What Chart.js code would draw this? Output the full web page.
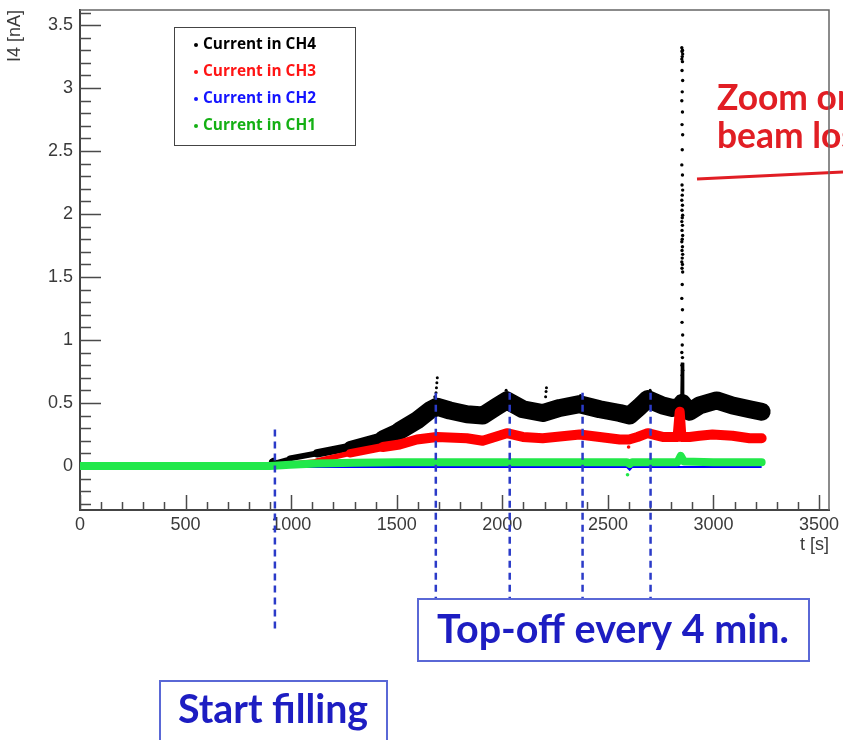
<!DOCTYPE html>
<html>
<head>
<meta charset="utf-8">
<title>I4 current vs time</title>
<script src="https://cdn.jsdelivr.net/npm/chart.js@4.4.1/dist/chart.umd.min.js"></script>
<style>
  html, body { margin: 0; padding: 0; background: #fff; }
  canvas { display: block; }
</style>
</head>
<body>
<canvas id="chartOne" width="843" height="740"></canvas>
<script>
// axis ticks
var xTicks = [0, 500, 1000, 1500, 2000, 2500, 3000, 3500];
var yTicks = [0, 0.5, 1, 1.5, 2, 2.5, 3, 3.5];

// CH4 (black) band centre, t [s] / I [nA]
var timesCH4 = [0, 450, 890, 905, 915, 930, 994, 1122, 1278, 1434, 1514, 1595, 1656, 1690, 1751, 1832, 1907, 1973, 2021, 2097,
                2191, 2272, 2366, 2461, 2556, 2603, 2650, 2688, 2759, 2806, 2840, 2852, 2866, 2887, 2934, 3015, 3090, 3171, 3228];
var currentCH4 = [-0.005, -0.005, 0.0, 0.04, 0.05, 0.03, 0.06, 0.10, 0.15, 0.22, 0.28, 0.36, 0.44, 0.47, 0.44, 0.41, 0.40, 0.47, 0.52, 0.45,
                  0.42, 0.46, 0.49, 0.45, 0.42, 0.40, 0.47, 0.53, 0.48, 0.46, 0.47, 0.50, 0.47, 0.43, 0.48, 0.52, 0.48, 0.45, 0.43];

// CH4 single readings above the band at the top-off peaks
var peakTimesCH4 = [1680, 1686, 1688, 1690, 1692, 2018, 2024, 2205, 2207, 2209, 2360, 2370, 2700];
var peakCurrentCH4 = [0.55, 0.58, 0.62, 0.66, 0.70, 0.60, 0.58, 0.55, 0.59, 0.62, 0.54, 0.56, 0.60];

// CH4 readings during the beam-loss burst
var burstTimesCH4 = [2850, 2853, 2851, 2854, 2852, 2850, 2853, 2851, 2854, 2852,
                     2850, 2853, 2851, 2854, 2852, 2850, 2853, 2851, 2854, 2852,
                     2850, 2853, 2851, 2854, 2852, 2850, 2853, 2851, 2854, 2852,
                     2850, 2853, 2851, 2854, 2852, 2850, 2853, 2851, 2854, 2852,
                     2850, 2853, 2851, 2854, 2852, 2850, 2853, 2851, 2854, 2852];
var burstCurrentCH4 = [3.32, 3.30, 3.29, 3.27, 3.25, 3.23, 3.21, 3.14, 3.06, 2.97,
                       2.90, 2.81, 2.71, 2.63, 2.51, 2.39, 2.31, 2.23, 2.19, 2.15,
                       2.11, 2.07, 2.03, 1.99, 1.97, 1.94, 1.91, 1.87, 1.83, 1.80,
                       1.78, 1.74, 1.71, 1.68, 1.65, 1.62, 1.60, 1.57, 1.54, 1.44,
                       1.33, 1.24, 1.14, 1.04, 0.96, 0.90, 0.86, 0.80, 0.76, 0.72];

// CH4 burst core just above the band
var spikeTimesCH4 = [2849, 2852, 2855];
var spikeCurrentCH4 = [0.46, 0.82, 0.46];

// CH3 (red)
var timesCH3 = [0, 450, 900, 994, 1122, 1278, 1434, 1514, 1595, 1690, 1832, 1907, 2021, 2097, 2191, 2366, 2461, 2556, 2600, 2640,
                2688, 2759, 2830, 2840, 2848, 2887, 2934, 2995, 3090, 3171, 3228];
var currentCH3 = [-0.012, -0.012, -0.01, 0.02, 0.04, 0.10, 0.15, 0.17, 0.21, 0.23, 0.22, 0.20, 0.26, 0.23, 0.22, 0.25, 0.23, 0.21, 0.21, 0.23,
                  0.26, 0.23, 0.23, 0.43, 0.23, 0.23, 0.24, 0.25, 0.24, 0.22, 0.22];
var dotTimesCH3 = [2598];
var dotCurrentCH3 = [0.15];

// CH2 (blue)
var timesCH2 = [0, 900, 1000, 2590, 2603, 2615, 3228];
var currentCH2 = [-0.005, -0.005, -0.008, -0.008, -0.03, -0.008, -0.008];

// CH1 (green)
var timesCH1 = [0, 450, 900, 994, 1122, 1300, 1500, 1800, 2200, 2590, 2603, 2615, 2830, 2845, 2860, 3000, 3228];
var currentCH1 = [0.0, 0.0, 0.0, 0.01, 0.02, 0.025, 0.03, 0.03, 0.03, 0.03, 0.015, 0.03, 0.03, 0.08, 0.035, 0.03, 0.03];
var dotTimesCH1 = [2593];
var dotCurrentCH1 = [-0.07];

// annotation times
var fillStartTime = 923;
var topOffTimes = [1685, 2035, 2380, 2702];

function pts(ts, vs) {
    return ts.map(function (t, i) { return { x: t, y: vs[i] }; });
}

// noise band gets wider as the current grows
function bandWidth(lo, hi, base, gain) {
    return function (c) {
        var v = (c.p0.parsed.y + c.p1.parsed.y) / 2;
        return Math.max(lo, Math.min(hi, base + gain * v));
    };
}

function fitFont(ctx, text, weight, family, width) {
    ctx.font = weight + ' 40px ' + family;
    var size = 40 * width / ctx.measureText(text).width;
    ctx.font = weight + ' ' + size.toFixed(1) + 'px ' + family;
}

var legendRows = [
    { text: 'Current in CH4', color: '#000000' },
    { text: 'Current in CH3', color: '#ff1414' },
    { text: 'Current in CH2', color: '#1414ff' },
    { text: 'Current in CH1', color: '#14b014' }
];

var decor = {
    id: 'decor',
    beforeDraw: function (chart) {
        var ctx = chart.ctx;
        ctx.save();
        ctx.fillStyle = '#ffffff';
        ctx.fillRect(0, 0, chart.width, chart.height);
        ctx.restore();
    },
    beforeDatasetsDraw: function (chart) {
        // ROOT-style ticks pointing into the frame
        var ctx = chart.ctx, sx = chart.scales.x, sy = chart.scales.y, a = chart.chartArea;
        ctx.save();
        ctx.strokeStyle = '#4a4a4a';
        ctx.lineWidth = 1.5;
        ctx.beginPath();
        for (var i = 0; i <= 35; i++) {
            var px = Math.round(sx.getPixelForValue(i * 100)) + 0.5;
            var len = i % 5 === 0 ? 15 : 8;
            ctx.moveTo(px, a.bottom);
            ctx.lineTo(px, a.bottom - len);
        }
        for (var k = -3; k <= 36; k++) {
            var py = Math.round(sy.getPixelForValue(k / 10)) + 0.5;
            var l = k % 5 === 0 ? 21 : 11;
            ctx.moveTo(a.left, py);
            ctx.lineTo(a.left + l, py);
        }
        ctx.stroke();
        ctx.restore();
    },
    afterDraw: function (chart) {
        var ctx = chart.ctx, sx = chart.scales.x, sy = chart.scales.y, a = chart.chartArea;
        ctx.save();

        // legend box
        ctx.strokeStyle = '#444';
        ctx.lineWidth = 1;
        ctx.strokeRect(174.5, 27.5, 181, 118);
        fitFont(ctx, 'Current in CH4', 'bold', '"Open Sans"', 113);
        ctx.textBaseline = 'middle';
        legendRows.forEach(function (row, i) {
            var ry = 45 + i * 27;
            ctx.fillStyle = row.color;
            ctx.beginPath();
            ctx.arc(196, ry, 2, 0, Math.PI * 2);
            ctx.fill();
            ctx.fillText(row.text, 203, ry);
        });

        // dashed markers for start of filling and top-off injections
        ctx.strokeStyle = '#2b3bc8';
        ctx.lineWidth = 2.5;
        ctx.setLineDash([7, 5]);
        ctx.beginPath();
        var fx = sx.getPixelForValue(fillStartTime);
        ctx.moveTo(fx, sy.getPixelForValue(0.29));
        ctx.lineTo(fx, 632);
        topOffTimes.forEach(function (t) {
            var px = sx.getPixelForValue(t);
            ctx.moveTo(px, sy.getPixelForValue(0.58));
            ctx.lineTo(px, 598);
        });
        ctx.stroke();
        ctx.setLineDash([]);

        // annotation boxes
        ctx.strokeStyle = '#5a68d6';
        ctx.lineWidth = 2;
        ctx.strokeRect(418, 599, 391, 62);
        ctx.strokeRect(160, 681, 227, 80);
        ctx.fillStyle = '#1d1dc2';
        ctx.textBaseline = 'alphabetic';
        fitFont(ctx, 'Top-off every 4 min.', 'bold', 'Lato', 352);
        ctx.fillText('Top-off every 4 min.', 437, 643);
        fitFont(ctx, 'Start filling', 'bold', 'Lato', 190);
        ctx.fillText('Start filling', 178, 723);

        // beam loss note
        ctx.fillStyle = '#e11e24';
        fitFont(ctx, 'Zoom', 'bold', 'Lato', 91);
        ctx.fillText('Zoom on', 717, 110);
        ctx.fillText('beam loss', 717, 148);
        ctx.strokeStyle = '#e11e24';
        ctx.lineWidth = 3;
        ctx.beginPath();
        ctx.moveTo(697, 179);
        ctx.lineTo(843, 172);
        ctx.stroke();

        // top and right sides of the frame
        ctx.strokeStyle = '#666';
        ctx.lineWidth = 1.5;
        ctx.beginPath();
        ctx.moveTo(a.left, a.top);
        ctx.lineTo(a.right, a.top);
        ctx.lineTo(a.right, a.bottom);
        ctx.stroke();
        ctx.restore();
    }
};

var axisFont = { family: '"Liberation Sans", Arial, sans-serif', size: 18 };
var titleFont = { family: '"Liberation Sans", Arial, sans-serif', size: 18 };

var chartOne = new Chart(document.getElementById('chartOne'), {
    type: 'scatter',
    data: {
        datasets: [{
            label: 'Current in CH4',
            data: pts(timesCH4, currentCH4),
            showLine: true,
            borderColor: '#000000',
            borderWidth: 16,
            borderCapStyle: 'round',
            borderJoinStyle: 'round',
            pointRadius: 0,
            segment: { borderWidth: bandWidth(3, 18, 1, 60) },
            order: 6
        }, {
            label: 'Current in CH3',
            data: pts(timesCH3, currentCH3),
            showLine: true,
            borderColor: '#ff0000',
            borderWidth: 9,
            borderCapStyle: 'round',
            borderJoinStyle: 'round',
            pointRadius: 0,
            segment: { borderWidth: bandWidth(4, 10, 2, 50) },
            order: 3
        }, {
            label: 'Current in CH2',
            data: pts(timesCH2, currentCH2),
            showLine: true,
            borderColor: '#0000ff',
            borderWidth: 2,
            pointRadius: 0,
            order: 2
        }, {
            label: 'Current in CH1',
            data: pts(timesCH1, currentCH1),
            showLine: true,
            borderColor: '#22e84a',
            borderWidth: 8,
            borderCapStyle: 'round',
            borderJoinStyle: 'round',
            pointRadius: 0,
            order: 1
        }, {
            label: 'CH4 peak readings',
            data: pts(peakTimesCH4, peakCurrentCH4),
            showLine: false,
            pointRadius: 1.5,
            pointBorderWidth: 0,
            backgroundColor: '#000000',
            order: 5
        }, {
            label: 'CH4 burst readings',
            data: pts(burstTimesCH4, burstCurrentCH4),
            showLine: false,
            pointRadius: 1.7,
            pointBorderWidth: 0,
            backgroundColor: '#000000',
            order: 5
        }, {
            label: 'CH4 burst',
            data: pts(spikeTimesCH4, spikeCurrentCH4),
            showLine: true,
            borderColor: '#000000',
            borderWidth: 3,
            pointRadius: 0,
            order: 4
        }, {
            label: 'CH3 readings',
            data: pts(dotTimesCH3, dotCurrentCH3),
            showLine: false,
            pointRadius: 1.8,
            pointBorderWidth: 0,
            backgroundColor: '#ff0000',
            order: 3
        }, {
            label: 'CH1 readings',
            data: pts(dotTimesCH1, dotCurrentCH1),
            showLine: false,
            pointRadius: 1.8,
            pointBorderWidth: 0,
            backgroundColor: '#22e84a',
            order: 1
        }]
    },
    options: {
        responsive: false,
        animation: false,
        layout: { padding: { left: 0, top: 10, right: 14, bottom: 180 } },
        plugins: {
            legend: { display: false },
            tooltip: { enabled: false }
        },
        scales: {
            x: {
                type: 'linear',
                min: 0,
                max: 3547,
                afterBuildTicks: function (s) {
                    s.ticks = xTicks.map(function (v) { return { value: v }; });
                },
                afterFit: function (s) {
                    s.height = 50;
                    s.paddingLeft = 0;
                    s.paddingRight = 0;
                },
                grid: { display: true, drawOnChartArea: false, drawTicks: false },
                border: { display: true, color: '#444', width: 2 },
                ticks: {
                    padding: 4,
                    color: '#3a3a3a',
                    font: axisFont,
                    maxRotation: 0,
                    callback: function (v) { return String(v); }
                },
                title: {
                    display: true,
                    text: 't [s]',
                    align: 'end',
                    color: '#3a3a3a',
                    font: titleFont,
                    padding: { top: 0, bottom: 4 }
                }
            },
            y: {
                type: 'linear',
                min: -0.35,
                max: 3.62,
                afterBuildTicks: function (s) {
                    s.ticks = yTicks.map(function (v) { return { value: v }; });
                },
                afterFit: function (s) {
                    s.width = 80;
                    s.paddingTop = 0;
                    s.paddingBottom = 0;
                },
                grid: { display: true, drawOnChartArea: false, drawTicks: false },
                border: { display: true, color: '#444', width: 2 },
                ticks: {
                    padding: 7,
                    color: '#3a3a3a',
                    font: axisFont,
                    callback: function (v) { return String(v); }
                },
                title: {
                    display: true,
                    text: 'I4 [nA]',
                    align: 'end',
                    color: '#3a3a3a',
                    font: titleFont,
                    padding: { top: 4, bottom: 0 }
                }
            }
        }
    },
    plugins: [decor]
});
</script>
</body>
</html>
